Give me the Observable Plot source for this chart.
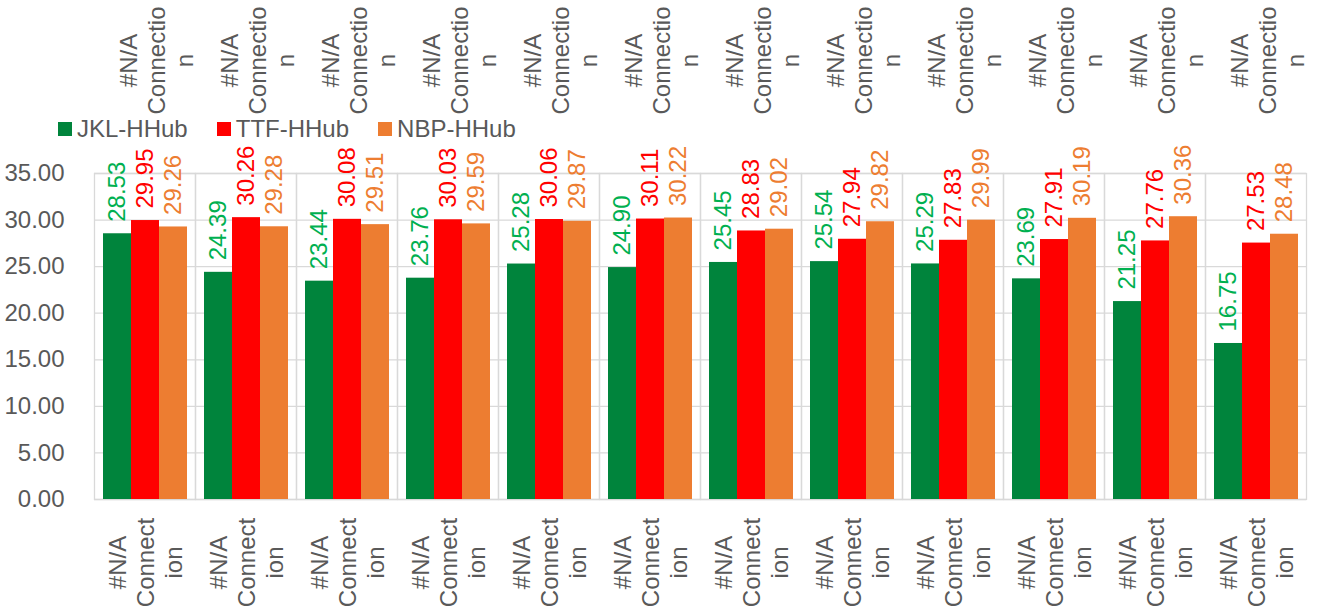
<!DOCTYPE html>
<html>
<head>
<meta charset="utf-8">
<script src="https://cdn.jsdelivr.net/npm/d3@7"></script>
<script src="https://cdn.jsdelivr.net/npm/@observablehq/plot@0.6"></script>
<style>
  html, body { margin: 0; padding: 0; background: #fff; }
  #wrap { position: relative; width: 1321px; height: 616px; font-family: "Liberation Sans", Arial, sans-serif; }
  #legend { position: absolute; left: 58px; top: 114px; display: flex; font-size: 24px; color: #595959; line-height: 30px; }
  #legend .item { display: flex; align-items: center; }
  #legend .sw { width: 14px; height: 14px; margin-right: 5px; }
</style>
</head>
<body>
<div id="wrap"><div id="legend"></div></div>
<script>
const categories = ["c1","c2","c3","c4","c5","c6","c7","c8","c9","c10","c11","c12"];
const bottomLabel = "#N/A\nConnect\nion";
const topLabel = "#N/A\nConnectio\nn";
const series = ["JKL-HHub", "TTF-HHub", "NBP-HHub"];
const jkl = [28.53, 24.39, 23.44, 23.76, 25.28, 24.90, 25.45, 25.54, 25.29, 23.69, 21.25, 16.75];
const ttf = [29.95, 30.26, 30.08, 30.03, 30.06, 30.11, 28.83, 27.94, 27.83, 27.91, 27.76, 27.53];
const nbp = [29.26, 29.28, 29.51, 29.59, 29.87, 30.22, 29.02, 29.82, 29.99, 30.19, 30.36, 28.48];
const yTicks = [0, 5, 10, 15, 20, 25, 30, 35];
const barColors = ["#00843C", "#FF0000", "#ED7D31"];
const labelColors = ["#00B050", "#FF0000", "#ED7D31"];

const values = [jkl, ttf, nbp];
const data = [];
categories.forEach((c, i) => series.forEach((s, j) => data.push({cat: c, series: s, value: values[j][i]})));
const catData = categories.map(c => ({cat: c}));
const labelColor = d3.scaleOrdinal(series, labelColors);

const chart = Plot.plot({
  width: 1321,
  height: 616,
  marginTop: 173,
  marginBottom: 117,
  marginLeft: 93,
  marginRight: 14,
  style: {fontFamily: "'Liberation Sans', Arial, sans-serif", fontSize: "24px", color: "#595959", background: "#fff"},
  fx: {domain: categories, paddingInner: 0, paddingOuter: 0, axis: null},
  x: {domain: series, paddingInner: 0, paddingOuter: 0.3, axis: null},
  y: {domain: [0, 35], ticks: yTicks, tickFormat: d => d.toFixed(2), tickSize: 0, tickPadding: 30, label: null},
  color: {domain: series, range: barColors},
  marks: [
    Plot.gridY(yTicks, {stroke: "#d9d9d9", strokeOpacity: 1, strokeWidth: 1.3}),
    Plot.frame({stroke: "#d9d9d9", strokeWidth: 1.3}),
    Plot.barY(data, {fx: "cat", x: "series", y: "value", fill: "series", inset: 0}),
    Plot.text(data, {fx: "cat", x: "series", y: "value", text: d => d.value.toFixed(2),
      fill: d => labelColor(d.series), rotate: -90, textAnchor: "start", lineAnchor: "middle", dy: -12, fontSize: 24}),
    Plot.text(catData, {fx: "cat", text: () => bottomLabel, frameAnchor: "bottom", rotate: -90,
      textAnchor: "middle", lineAnchor: "middle", lineHeight: 1.17, dy: 63, dx: 0, fill: "#595959", fontSize: 24}),
    Plot.text(catData, {fx: "cat", text: () => topLabel, frameAnchor: "top", rotate: -90,
      textAnchor: "middle", lineAnchor: "middle", lineHeight: 1.17, dy: -113, dx: 11, fill: "#595959", fontSize: 24})
  ]
});
chart.style.overflow = "visible";
const wrap = document.getElementById("wrap");
wrap.insertBefore(chart, wrap.firstChild);
chart.style.position = "absolute";
chart.style.left = "0";
chart.style.top = "0";

const legend = document.getElementById("legend");
series.forEach((s, j) => {
  const item = document.createElement("div");
  item.className = "item";
  item.style.marginLeft = (j === 0 ? 0 : 29) + "px";
  const sw = document.createElement("span");
  sw.className = "sw";
  sw.style.background = barColors[j];
  const t = document.createElement("span");
  t.textContent = s;
  item.appendChild(sw);
  item.appendChild(t);
  legend.appendChild(item);
});
</script>
</body>
</html>
